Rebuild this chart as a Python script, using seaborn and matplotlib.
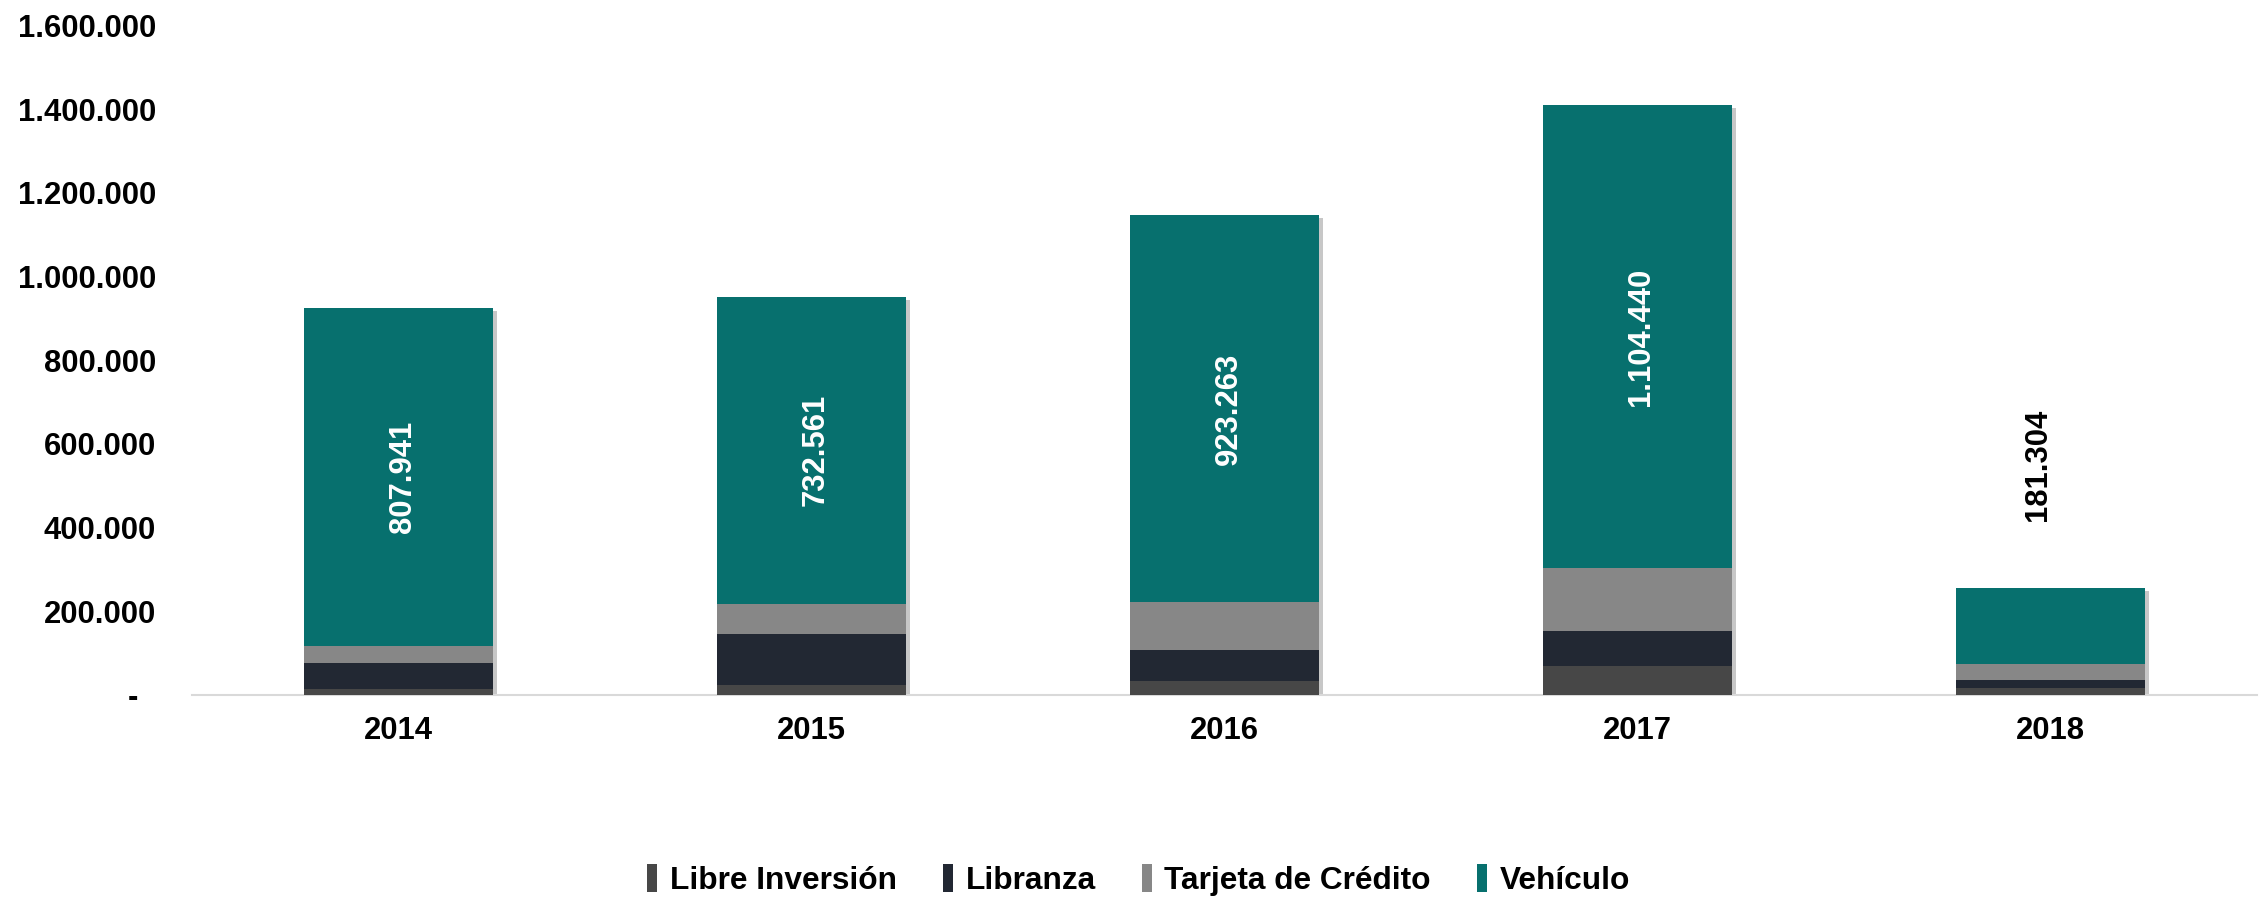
import matplotlib
matplotlib.use("Agg")
import matplotlib.pyplot as plt
import matplotlib.patheffects as pe
from matplotlib.patches import Patch
from matplotlib.ticker import FuncFormatter
import numpy as np
import pandas as pd
import seaborn as sns

years = ["2014", "2015", "2016", "2017", "2018"]
libre_inversion = [15000, 24000, 33500, 69400, 16000]
libranza = [61000, 121000, 73500, 84000, 20000]
tarjeta_credito = [40000, 73500, 115600, 151000, 37500]
vehiculo = [807941, 732561, 923263, 1104440, 181304]

series_names = ["Libre Inversión", "Libranza", "Tarjeta de Crédito", "Vehículo"]
series_vals = [libre_inversion, libranza, tarjeta_credito, vehiculo]
colors = ["#474747", "#222833", "#878787", "#07706E"]

sns.set_theme(style="white")
plt.rcParams["font.family"] = ["Liberation Sans", "DejaVu Sans"]
plt.rcParams["font.weight"] = "bold"
plt.rcParams["text.color"] = "black"

FS = 22.3

fig = plt.figure(figsize=(22.59, 9), dpi=100)
ax = fig.add_axes([0.085, 0.2278, 0.914, 0.7440])

cum = np.cumsum(np.array(series_vals, dtype=float), axis=0)
df = pd.DataFrame({"year": years})
# draw from tallest cumulative down so stacks overlay properly
for i in range(len(series_names) - 1, -1, -1):
    df["v"] = cum[i]
    sns.barplot(data=df, x="year", y="v", color=colors[i], saturation=1,
                width=0.458, ax=ax, linewidth=0, zorder=2 + (3 - i))
outer = ax.patches[:len(years)]
for p in outer:
    p.set_path_effects([pe.SimplePatchShadow(offset=(3, -2), shadow_rgbFace="#000000", alpha=0.22),
                        pe.Normal()])

ax.set_ylim(0, 1600000)
ax.set_xlim(-0.5, len(years) - 0.5)
ax.set_yticks(np.arange(0, 1600001, 200000))

def fmt(v, pos):
    if v == 0:
        return "-  "
    return f"{int(v):,}".replace(",", ".")

ax.yaxis.set_major_formatter(FuncFormatter(fmt))
ax.tick_params(axis="y", length=0, pad=26, labelsize=FS, labelcolor="black")
ax.tick_params(axis="x", length=0, pad=15, labelsize=FS, labelcolor="black")
for lab in ax.get_xticklabels() + ax.get_yticklabels():
    lab.set_fontweight("bold")
ax.set_xlabel("")
ax.set_ylabel("")
for s in ["top", "right", "left"]:
    ax.spines[s].set_visible(False)
ax.spines["bottom"].set_color("#d9d9d9")
ax.spines["bottom"].set_linewidth(1.5)
ax.grid(False)

base = cum[2]
for i, (b, v) in enumerate(zip(base, vehiculo)):
    txt = f"{v:,}".replace(",", ".")
    if i < len(years) - 1:
        ax.text(i + 0.01, b + v / 2, txt, rotation=90, ha="center", va="center",
                color="white", fontsize=FS, fontweight="bold", zorder=10)
    else:
        ax.text(i - 0.03, 550000, txt, rotation=90, ha="center", va="center",
                color="black", fontsize=FS, fontweight="bold", zorder=10)

LFS = 22.8
handles = [Patch(facecolor=c, edgecolor="none") for c in colors]
leg = fig.legend(handles, series_names, loc="center", bbox_to_anchor=(0.504, 0.022),
                 ncol=4, frameon=False, handlelength=0.32, handleheight=0.95,
                 handletextpad=0.4, columnspacing=1.45, prop={"weight": "bold", "size": LFS})
for t in leg.get_texts():
    t.set_color("black")

fig.savefig("out.png", dpi=100)
